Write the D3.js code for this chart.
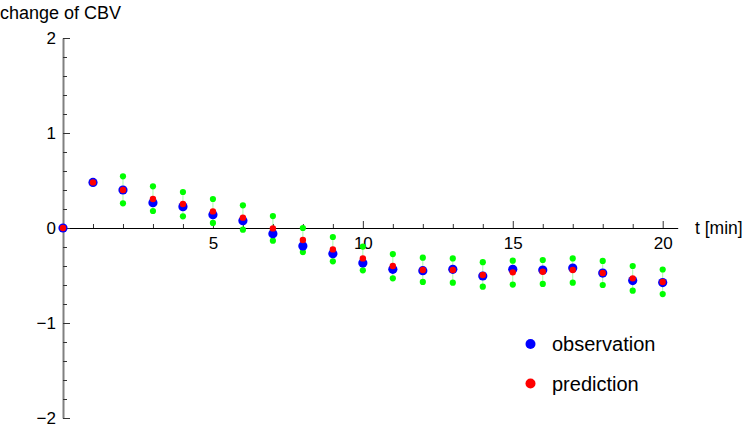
<!DOCTYPE html>
<html><head><meta charset="utf-8">
<script src="https://cdn.jsdelivr.net/npm/d3@7"></script>
<style>body{margin:0;background:#fff}svg{display:block}text{font-family:"Liberation Sans",Arial,sans-serif}</style>
</head><body><div id="chart"></div>
<script>
const times = [0,1,2,3,4,5,6,7,8,9,10,11,12,13,14,15,16,17,18,19,20];
const observation = [0,0.48,0.40,0.267,0.225,0.14,0.077,-0.06,-0.189,-0.27,-0.368,-0.435,-0.449,-0.435,-0.505,-0.435,-0.442,-0.421,-0.474,-0.553,-0.574];
const prediction = [0,0.48,0.40,0.305,0.253,0.175,0.109,-0.004,-0.126,-0.225,-0.32,-0.40,-0.442,-0.442,-0.495,-0.467,-0.46,-0.442,-0.474,-0.53,-0.568];
const upperBound = [null,null,0.544,0.439,0.379,0.305,0.239,0.126,0.0,-0.095,-0.196,-0.274,-0.312,-0.32,-0.36,-0.344,-0.337,-0.32,-0.347,-0.40,-0.437];
const lowerBound = [null,null,0.26,0.179,0.123,0.053,-0.018,-0.133,-0.253,-0.351,-0.446,-0.53,-0.568,-0.575,-0.618,-0.596,-0.589,-0.575,-0.60,-0.66,-0.695];
const xMajorTicks = [5,10,15,20];
const yMajorTicks = [-2,-1,0,1,2];
const yTickLabels = ["\u22122","\u22121","0","1","2"];
const legendLabels = ["observation","prediction"];
const legendColors = ["#0000ff","#ff0000"];

const W = 747, H = 428;
const svg = d3.select("#chart").append("svg").attr("width", W).attr("height", H);
const x = d3.scaleLinear().domain([0, 20.5]).range([63, 63 + 20.5 * 29.985]);
const y = d3.scaleLinear().domain([-2, 2]).range([418, 38]);

// x axis
const xMinor = d3.range(1, 21).filter(v => v % 5 !== 0);
const gx = svg.append("g").attr("transform", `translate(0,${y(0)})`);
gx.call(d3.axisBottom(x).tickValues(xMinor).tickSizeInner(-4).tickSizeOuter(0).tickFormat(""));
gx.select(".domain").attr("stroke", "#000");
gx.selectAll(".tick line").attr("stroke", "#333");
const gx2 = svg.append("g").attr("transform", `translate(0,${y(0)})`);
gx2.call(d3.axisBottom(x).tickValues(xMajorTicks).tickSizeInner(-7).tickSizeOuter(0).tickPadding(9).tickFormat(d3.format("d")));
gx2.select(".domain").remove();
gx2.selectAll(".tick line").attr("stroke", "#333");
gx2.selectAll("text").attr("font-size", 17).attr("fill", "#000").attr("font-family", "Liberation Sans, Arial, sans-serif");

// y axis
const yMinor = d3.range(-20, 21, 2).map(v => v / 10).filter(v => Math.abs(v % 1) > 1e-6);
const gy = svg.append("g").attr("transform", `translate(${x(0)},0)`);
gy.call(d3.axisLeft(y).tickValues(yMinor).tickSizeInner(-4).tickSizeOuter(0).tickFormat(""));
gy.select(".domain").attr("stroke", "#808080").attr("stroke-width", 2);
gy.selectAll(".tick line").attr("stroke", "#333");
const gy2 = svg.append("g").attr("transform", `translate(${x(0)},0)`);
gy2.call(d3.axisLeft(y).tickValues(yMajorTicks).tickSizeInner(-7).tickSizeOuter(0).tickPadding(7).tickFormat((d, i) => yTickLabels[i]));
gy2.select(".domain").remove();
gy2.selectAll(".tick line").attr("stroke", "#333");
gy2.selectAll("text").attr("font-size", 17).attr("fill", "#000").attr("font-family", "Liberation Sans, Arial, sans-serif");

// axis labels
svg.append("text").attr("x", 0).attr("y", 13).attr("dy", "0.35em").attr("font-size", 18).text("change of CBV");
svg.append("text").attr("x", 695).attr("y", 228).attr("dy", "0.35em").attr("font-size", 17.5).text("t [min]");

// green bounds
const bounds = times.map((t, i) => ({t, lo: lowerBound[i], hi: upperBound[i]})).filter(d => d.lo !== null);
svg.append("g").selectAll("line").data(bounds).join("line")
  .attr("x1", d => x(d.t)).attr("x2", d => x(d.t))
  .attr("y1", d => y(d.hi)).attr("y2", d => y(d.lo))
  .attr("stroke", "#00ff00").attr("stroke-opacity", 0.35).attr("stroke-width", 1);
const gGreen = svg.append("g").attr("fill", "#00ff00");
gGreen.selectAll("circle.hi").data(bounds).join("circle").attr("class", "hi")
  .attr("cx", d => x(d.t)).attr("cy", d => y(d.hi)).attr("r", 3.1);
gGreen.selectAll("circle.lo").data(bounds).join("circle").attr("class", "lo")
  .attr("cx", d => x(d.t)).attr("cy", d => y(d.lo)).attr("r", 3.1);

// observation
svg.append("g").attr("fill", "#0000ff").selectAll("circle").data(times).join("circle")
  .attr("cx", d => x(d)).attr("cy", (d, i) => y(observation[i])).attr("r", 4.6);
// prediction
svg.append("g").attr("fill", "#ff0000").selectAll("circle").data(times).join("circle")
  .attr("cx", d => x(d)).attr("cy", (d, i) => y(prediction[i])).attr("r", 3.2);

// legend
const lg = svg.append("g");
legendLabels.forEach((lab, i) => {
  const cy = 344 + i * 39.5;
  lg.append("circle").attr("cx", 530.5).attr("cy", cy).attr("r", 5).attr("fill", legendColors[i]);
  lg.append("text").attr("x", 552).attr("y", cy).attr("dy", "0.35em").attr("font-size", 20).text(lab);
});
</script></body></html>
